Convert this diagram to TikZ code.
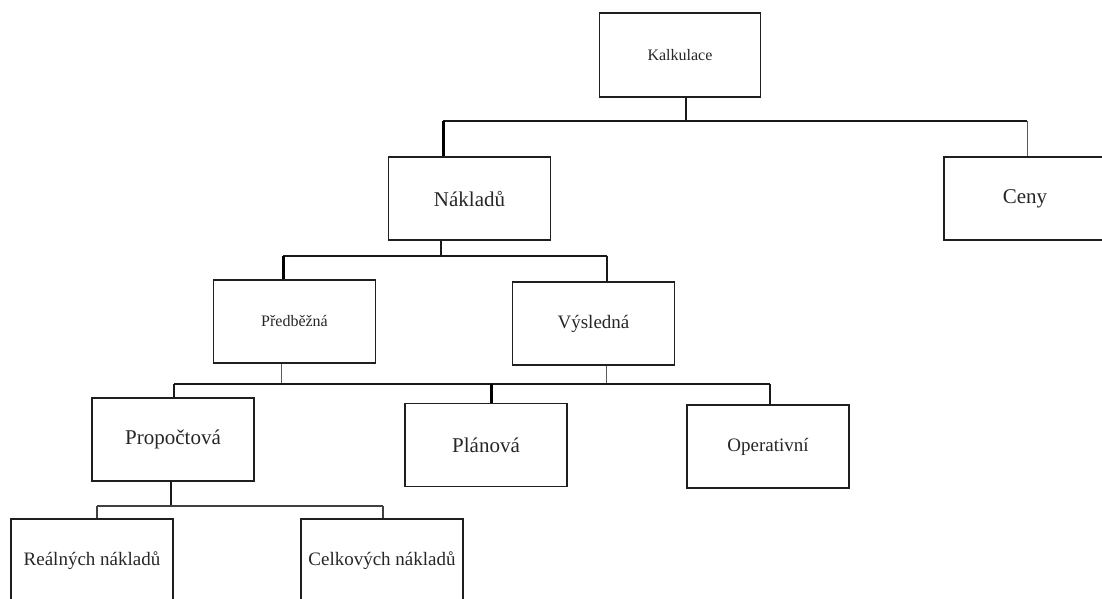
\documentclass[tikz,border=0pt]{standalone}
\usepackage{fontspec}
\setmainfont{Liberation Serif}
\tikzset{
  box/.style={draw=black!88, line width=1.8pt, minimum width=162pt, minimum height=83pt, inner sep=0pt, text=black!85},
  bigtxt/.style={font=\fontsize{21}{25}\selectfont},
  midtxt/.style={font=\fontsize{19}{23}\selectfont},
  smalltxt/.style={font=\fontsize{16}{19}\selectfont},
  link/.style={draw=black!90, line width=1.8pt},
  heavy/.style={draw=black, line width=3pt},
  slim/.style={draw=black!65, line width=1pt},
  midline/.style={draw=black!75, line width=1.4pt},
}
\begin{document}
\begin{tikzpicture}[x=1pt,y=-1pt]
\useasboundingbox (0,0) rectangle (1102,598);
\clip (0,0) rectangle (1102,598);
% boxes
\node[box,smalltxt,minimum width=161pt,minimum height=84pt] (kalk) at (680,55) {Kalkulace};
\node[box,bigtxt] (nakl) at (469.5,198.5) {Nákladů};
\node[box,bigtxt] (ceny) at (1025,198.5) {Ceny};
\node[box,smalltxt] (pred) at (294.5,321.5) {Předběžná};
\node[box,midtxt] (vysl) at (593.5,323.5) {Výsledná};
\node[box,bigtxt] (prop) at (173,439.5) {Propočtová};
\node[box,bigtxt] (plan) at (486,445) {Plánová};
\node[box,midtxt] (oper) at (768,446.5) {Operativní};
\node[box,midtxt,minimum height=84pt] (real) at (92,561) {Reálných nákladů};
\node[box,midtxt,minimum height=84pt] (celk) at (382,561) {Celkových nákladů};
% level 1
\coordinate (j1) at (686,122);
\coordinate (b1l) at (443,121);
\coordinate (b1r) at (1027,121);
\draw[link] (kalk.south -| j1) -- (j1);
\draw[link] (b1l) -- (b1r);
\draw[heavy] (b1l) -- (b1l |- nakl.north);
\draw[slim] (b1r) -- (b1r |- ceny.north);
% level 2
\coordinate (j2) at (441,256);
\coordinate (b2l) at (283,256);
\coordinate (b2r) at (607,256);
\draw[link] (nakl.south -| j2) -- (j2);
\draw[link] (b2l) -- (b2r);
\draw[heavy] (b2l) -- (b2l |- pred.north);
\draw[link] (b2r) -- (b2r |- vysl.north);
% level 3
\coordinate (j3a) at (281,384);
\coordinate (j3b) at (606,384);
\coordinate (b3l) at (174,384);
\coordinate (b3m) at (491,384);
\coordinate (b3r) at (770,384);
\draw[slim] (pred.south -| j3a) -- (j3a);
\draw[slim] (vysl.south -| j3b) -- (j3b);
\draw[link] (b3l) -- (b3r);
\draw[link] (b3l) -- (b3l |- prop.north);
\draw[heavy] (b3m) -- (b3m |- plan.north);
\draw[link] (b3r) -- (b3r |- oper.north);
% level 4
\coordinate (j4) at (171,506);
\coordinate (b4l) at (97,506);
\coordinate (b4r) at (383,506);
\draw[link] (prop.south -| j4) -- (j4);
\draw[midline] (b4l) -- (b4r);
\draw[midline] (b4l) -- (b4l |- real.north);
\draw[midline] (b4r) -- (b4r |- celk.north);
\end{tikzpicture}
\end{document}
